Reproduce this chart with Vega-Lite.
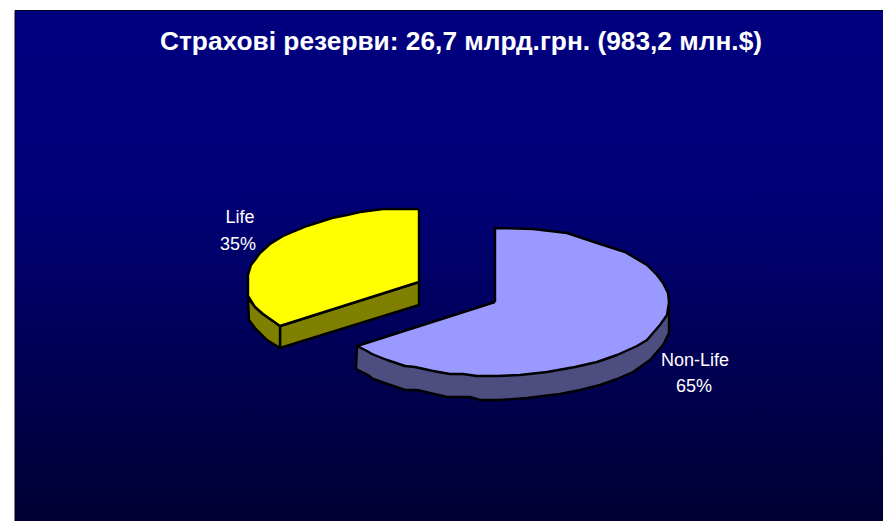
{"$schema":"https://vega.github.io/schema/vega-lite/v6.json","width":883,"height":521,"padding":0,"autosize":{"type":"fit","contains":"padding"},"background":"white","view":{"stroke":null},
"datasets":{
"panel":[{"x":15,"y":10,"x2":883,"y2":521}],
"edge":[{"i":1,"x":15,"y":521},{"i":2,"x":15,"y":10.5},{"i":3,"x":883,"y":10.5}],
"shapes":[
{"s":"lifeSideFront","i":1,"x":280,"y":326},{"s":"lifeSideFront","i":2,"x":419,"y":282},{"s":"lifeSideFront","i":3,"x":419,"y":305},{"s":"lifeSideFront","i":4,"x":280,"y":348},{"s":"lifeSideFront","i":5,"x":280,"y":326},
{"s":"lifeSideRim","i":1,"x":248,"y":298},{"s":"lifeSideRim","i":2,"x":255,"y":307},{"s":"lifeSideRim","i":3,"x":263,"y":314},{"s":"lifeSideRim","i":4,"x":273,"y":321},{"s":"lifeSideRim","i":5,"x":280,"y":326},{"s":"lifeSideRim","i":6,"x":280,"y":348},{"s":"lifeSideRim","i":7,"x":267,"y":340},{"s":"lifeSideRim","i":8,"x":255,"y":328},{"s":"lifeSideRim","i":9,"x":249,"y":320},{"s":"lifeSideRim","i":10,"x":248,"y":298},
{"s":"lifeTop","i":1,"x":419,"y":209},{"s":"lifeTop","i":2,"x":419,"y":282},{"s":"lifeTop","i":3,"x":280,"y":326},{"s":"lifeTop","i":4,"x":273,"y":321},{"s":"lifeTop","i":5,"x":263,"y":314},{"s":"lifeTop","i":6,"x":255,"y":307},{"s":"lifeTop","i":7,"x":248,"y":296},{"s":"lifeTop","i":8,"x":248,"y":275},{"s":"lifeTop","i":9,"x":251,"y":265},{"s":"lifeTop","i":10,"x":255,"y":260},{"s":"lifeTop","i":11,"x":260,"y":253},{"s":"lifeTop","i":12,"x":270,"y":244},{"s":"lifeTop","i":13,"x":283,"y":236},{"s":"lifeTop","i":14,"x":295,"y":231},{"s":"lifeTop","i":15,"x":307,"y":226},{"s":"lifeTop","i":16,"x":332,"y":218},{"s":"lifeTop","i":17,"x":347,"y":215},{"s":"lifeTop","i":18,"x":360,"y":212},{"s":"lifeTop","i":19,"x":383,"y":209},{"s":"lifeTop","i":20,"x":419,"y":209},
{"s":"nonSide","i":1,"x":357,"y":346},{"s":"nonSide","i":2,"x":356,"y":369},{"s":"nonSide","i":3,"x":368,"y":375},{"s":"nonSide","i":4,"x":373,"y":379},{"s":"nonSide","i":5,"x":405,"y":390},{"s":"nonSide","i":6,"x":417,"y":390},{"s":"nonSide","i":7,"x":447,"y":397},{"s":"nonSide","i":8,"x":470,"y":397},{"s":"nonSide","i":9,"x":480,"y":400},{"s":"nonSide","i":10,"x":500,"y":400},{"s":"nonSide","i":11,"x":527,"y":398},{"s":"nonSide","i":12,"x":560,"y":394},{"s":"nonSide","i":13,"x":580,"y":390},{"s":"nonSide","i":14,"x":600,"y":385},{"s":"nonSide","i":15,"x":617,"y":379},{"s":"nonSide","i":16,"x":633,"y":372},{"s":"nonSide","i":17,"x":650,"y":360},{"s":"nonSide","i":18,"x":663,"y":345},{"s":"nonSide","i":19,"x":669,"y":333},{"s":"nonSide","i":20,"x":669,"y":302},{"s":"nonSide","i":21,"x":500,"y":340},{"s":"nonSide","i":22,"x":357,"y":346},
{"s":"nonTop","i":1,"x":495,"y":302},{"s":"nonTop","i":2,"x":495,"y":228},{"s":"nonTop","i":3,"x":533,"y":229},{"s":"nonTop","i":4,"x":567,"y":233},{"s":"nonTop","i":5,"x":597,"y":243},{"s":"nonTop","i":6,"x":625,"y":252},{"s":"nonTop","i":7,"x":647,"y":265},{"s":"nonTop","i":8,"x":657,"y":275},{"s":"nonTop","i":9,"x":663,"y":283},{"s":"nonTop","i":10,"x":668,"y":293},{"s":"nonTop","i":11,"x":669,"y":302},{"s":"nonTop","i":12,"x":667,"y":315},{"s":"nonTop","i":13,"x":660,"y":325},{"s":"nonTop","i":14,"x":653,"y":333},{"s":"nonTop","i":15,"x":647,"y":340},{"s":"nonTop","i":16,"x":637,"y":346},{"s":"nonTop","i":17,"x":617,"y":355},{"s":"nonTop","i":18,"x":597,"y":362},{"s":"nonTop","i":19,"x":575,"y":367},{"s":"nonTop","i":20,"x":547,"y":372},{"s":"nonTop","i":21,"x":520,"y":375},{"s":"nonTop","i":22,"x":497,"y":376},{"s":"nonTop","i":23,"x":477,"y":376},{"s":"nonTop","i":24,"x":463,"y":374},{"s":"nonTop","i":25,"x":450,"y":374},{"s":"nonTop","i":26,"x":433,"y":371},{"s":"nonTop","i":27,"x":415,"y":367},{"s":"nonTop","i":28,"x":405,"y":366},{"s":"nonTop","i":29,"x":387,"y":360},{"s":"nonTop","i":30,"x":372,"y":354},{"s":"nonTop","i":31,"x":367,"y":351},{"s":"nonTop","i":32,"x":357,"y":346},{"s":"nonTop","i":33,"x":495,"y":302}
],
"labels":[{"t":"Life","x":240,"y":218},{"t":"35%","x":238,"y":245},{"t":"Non-Life","x":695,"y":361},{"t":"65%","x":694,"y":387}],
"titleRow":[{"t":"Страхові резерви: 26,7 млрд.грн. (983,2 млн.$)","x":461,"y":42}]
},
"layer":[
{"data":{"name":"panel"},"mark":{"type":"rect","fill":{"gradient":"linear","x1":0,"y1":0,"x2":0,"y2":1,"stops":[{"offset":0,"color":"#000080"},{"offset":0.35,"color":"#000078"},{"offset":1,"color":"#000033"}]}},
"encoding":{"x":{"field":"x","type":"quantitative","scale":{"domain":[0,883],"nice":false,"zero":false},"axis":null},"x2":{"field":"x2"},"y":{"field":"y","type":"quantitative","scale":{"domain":[521,0],"nice":false,"zero":false},"axis":null},"y2":{"field":"y2"}}},
{"data":{"name":"edge"},"mark":{"type":"line","stroke":"#000020","strokeWidth":1,"clip":true},"encoding":{"x":{"field":"x","type":"quantitative","axis":null},"y":{"field":"y","type":"quantitative","axis":null},"order":{"field":"i","type":"quantitative"}}},
{"data":{"name":"shapes"},"transform":[{"filter":"datum.s==='lifeSideFront'"}],"mark":{"type":"line","fill":"#808000","stroke":"black","strokeWidth":2.4,"strokeJoin":"round"},"encoding":{"x":{"field":"x","type":"quantitative","axis":null},"y":{"field":"y","type":"quantitative","axis":null},"order":{"field":"i","type":"quantitative"}}},
{"data":{"name":"shapes"},"transform":[{"filter":"datum.s==='lifeSideRim'"}],"mark":{"type":"line","fill":"#808000","stroke":"black","strokeWidth":2.4,"strokeJoin":"round"},"encoding":{"x":{"field":"x","type":"quantitative","axis":null},"y":{"field":"y","type":"quantitative","axis":null},"order":{"field":"i","type":"quantitative"}}},
{"data":{"name":"shapes"},"transform":[{"filter":"datum.s==='lifeTop'"}],"mark":{"type":"line","fill":"#ffff00","stroke":"black","strokeWidth":2.4,"strokeJoin":"round"},"encoding":{"x":{"field":"x","type":"quantitative","axis":null},"y":{"field":"y","type":"quantitative","axis":null},"order":{"field":"i","type":"quantitative"}}},
{"data":{"name":"shapes"},"transform":[{"filter":"datum.s==='nonSide'"}],"mark":{"type":"line","fill":"#4d4d80","stroke":"black","strokeWidth":2.4,"strokeJoin":"round"},"encoding":{"x":{"field":"x","type":"quantitative","axis":null},"y":{"field":"y","type":"quantitative","axis":null},"order":{"field":"i","type":"quantitative"}}},
{"data":{"name":"shapes"},"transform":[{"filter":"datum.s==='nonTop'"}],"mark":{"type":"line","fill":"#9999ff","stroke":"black","strokeWidth":2.4,"strokeJoin":"round"},"encoding":{"x":{"field":"x","type":"quantitative","axis":null},"y":{"field":"y","type":"quantitative","axis":null},"order":{"field":"i","type":"quantitative"}}},
{"data":{"name":"labels"},"mark":{"type":"text","font":"Liberation Sans","fontSize":18,"color":"white","align":"center","baseline":"middle"},"encoding":{"x":{"field":"x","type":"quantitative","axis":null},"y":{"field":"y","type":"quantitative","axis":null},"text":{"field":"t"}}},
{"data":{"name":"titleRow"},"mark":{"type":"text","font":"Liberation Sans","fontSize":26.3,"fontWeight":"bold","color":"white","align":"center","baseline":"middle"},"encoding":{"x":{"field":"x","type":"quantitative","axis":null},"y":{"field":"y","type":"quantitative","axis":null},"text":{"field":"t"}}}
]}
